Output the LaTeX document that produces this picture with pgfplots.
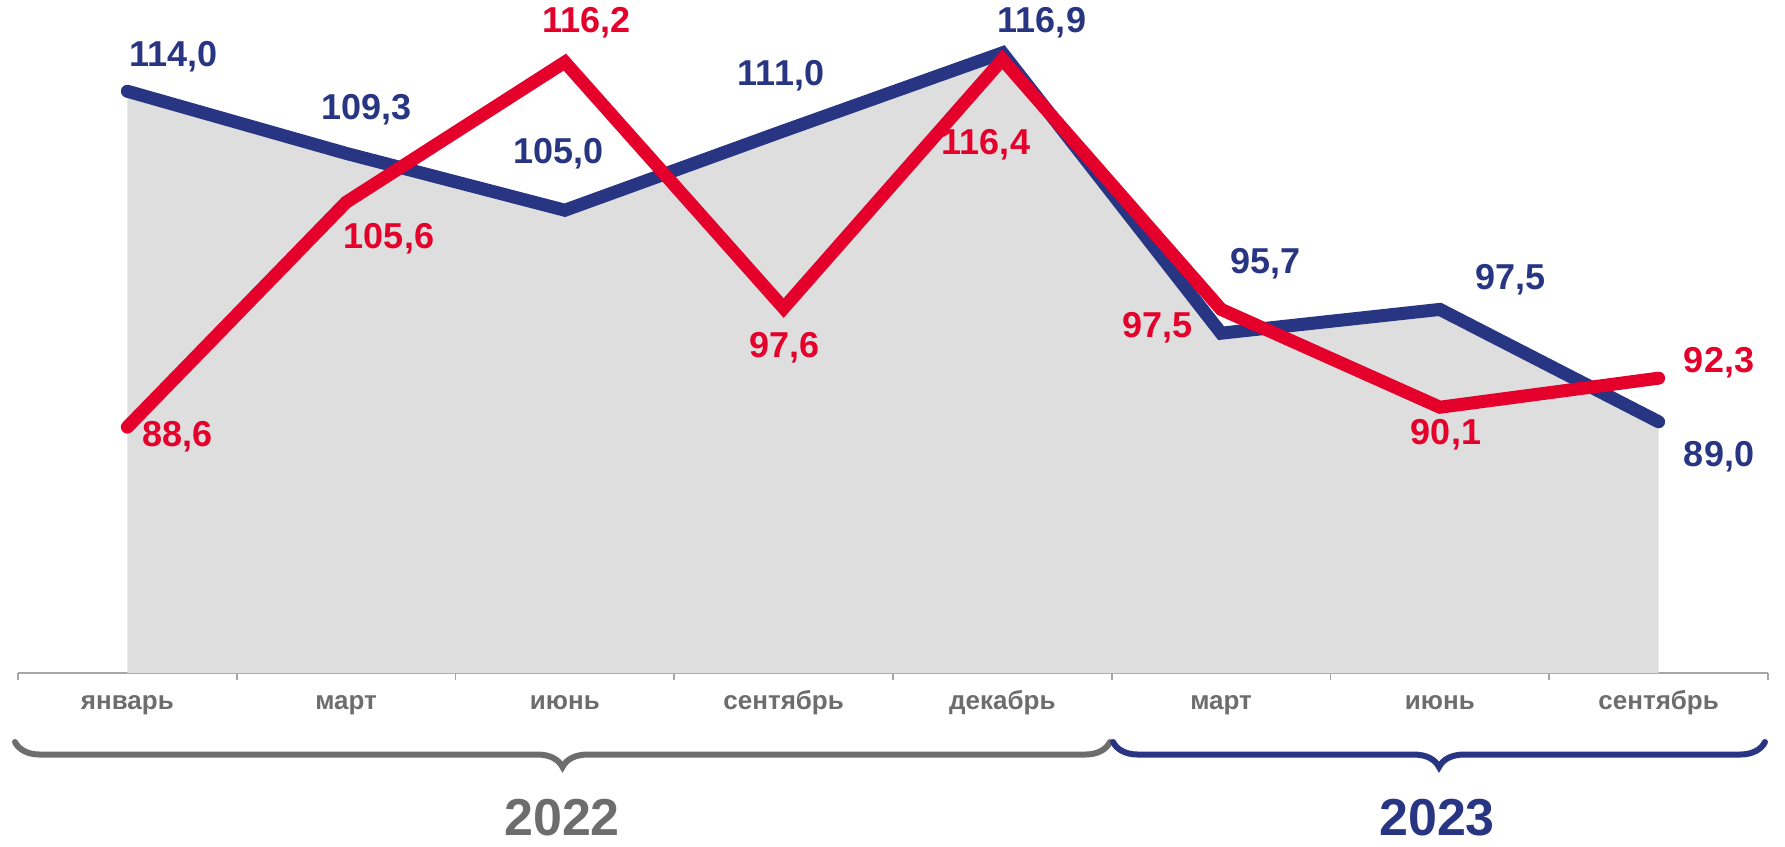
\documentclass[border=0pt]{standalone}
\usepackage{fontspec}
\setmainfont{Liberation Sans}
\usepackage{pgfplots}
\pgfplotsset{compat=1.18}
\usetikzlibrary{decorations.pathreplacing}
\definecolor{cblue}{HTML}{283583}
\definecolor{cred}{HTML}{E4002B}
\definecolor{cgray}{HTML}{6D6D6D}
\definecolor{cfill}{HTML}{DEDEDE}
\definecolor{caxis}{HTML}{A6A6A6}
\tikzset{lbl/.style={font=\bfseries\fontsize{18bp}{21bp}\selectfont, anchor=center, inner sep=0pt}}
\begin{document}
\begin{tikzpicture}
\begin{axis}[
  scale only axis, width=875bp, height=336.5bp,
  xmin=-0.5, xmax=7.5, ymin=70, ymax=120.9,
  axis x line*=bottom, axis y line=none,
  x axis line style={-, color=caxis, line width=1bp},
  xtick={0,...,7},
  xticklabels={январь,март,июнь,сентябрь,декабрь,март,июнь,сентябрь},
  minor xtick={-0.5,0.5,...,7.5},
  major tick length=0pt, minor tick length=3.5bp,
  tick align=outside,
  tick style={color=caxis, line width=0.8bp},
  xticklabel style={font=\bfseries\fontsize{13bp}{15bp}\selectfont, text=cgray, anchor=base, yshift=-18bp},
  clip=false,
]
\addplot[fill=cfill, draw=none] coordinates {(0,114.0) (1,109.3) (2,105.0) (3,111.0) (4,116.9) (5,95.7) (6,97.5) (7,89.0)} \closedcycle;
\addplot[cblue, line width=6.5bp, line cap=round, line join=miter] coordinates {(0,114.0) (1,109.3) (2,105.0) (3,111.0) (4,116.9) (5,95.7) (6,97.5) (7,89.0)};
\addplot[cred, line width=6.5bp, line cap=round, line join=miter] coordinates {(0,88.6) (1,105.6) (2,116.2) (3,97.6) (4,116.4) (5,97.5) (6,90.1) (7,92.3)};
% blue labels
\node[lbl, text=cblue] at (axis cs:0.213,116.6) {114,0};
\node[lbl, text=cblue] at (axis cs:1.095,112.59) {109,3};
\node[lbl, text=cblue] at (axis cs:1.973,109.26) {105,0};
\node[lbl, text=cblue] at (axis cs:2.988,115.16) {111,0};
\node[lbl, text=cblue] at (axis cs:4.181,119.17) {116,9};
\node[lbl, text=cblue] at (axis cs:5.205,100.94) {95,7};
\node[lbl, text=cblue] at (axis cs:6.325,99.73) {97,5};
\node[lbl, text=cblue] at (axis cs:7.276,86.34) {89,0};
% red labels
\node[lbl, text=cred] at (axis cs:0.231,87.85) {88,6};
\node[lbl, text=cred] at (axis cs:1.196,102.83) {105,6};
\node[lbl, text=cred] at (axis cs:2.097,119.17) {116,2};
\node[lbl, text=cred] at (axis cs:3.002,94.58) {97,6};
\node[lbl, text=cred] at (axis cs:3.925,109.94) {116,4};
\node[lbl, text=cred] at (axis cs:4.711,96.1) {97,5};
\node[lbl, text=cred] at (axis cs:6.028,88.0) {90,1};
\node[lbl, text=cred] at (axis cs:7.276,93.45) {92,3};
% braces
\draw[cgray, line width=3bp, line cap=round, decorate, decoration={brace, mirror, amplitude=12.5bp}] (axis cs:-0.5137,64.78) -- (axis cs:4.492,64.78);
\draw[cblue, line width=3bp, line cap=round, decorate, decoration={brace, mirror, amplitude=12.5bp}] (axis cs:4.506,64.78) -- (axis cs:7.486,64.78);
\node[font=\bfseries\fontsize{26bp}{30bp}\selectfont, text=cgray, anchor=base, inner sep=0pt] at (axis cs:1.987,57.72) {2022};
\node[font=\bfseries\fontsize{26bp}{30bp}\selectfont, text=cblue, anchor=base, inner sep=0pt] at (axis cs:5.987,57.72) {2023};
\coordinate (SW) at (rel axis cs:-0.010286,-0.25706);
\coordinate (NE) at (rel axis cs:1.009714,1);
\end{axis}
\pgfresetboundingbox
\path[use as bounding box] (SW) rectangle (NE);
\end{tikzpicture}
\end{document}
